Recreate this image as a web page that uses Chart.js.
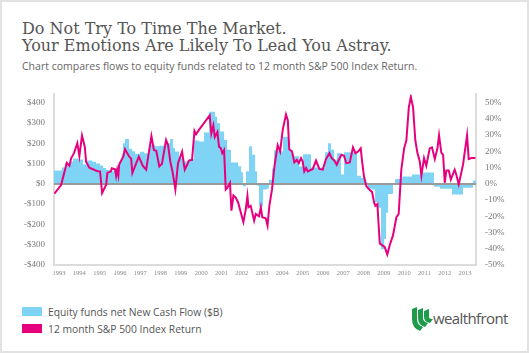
<!DOCTYPE html>
<html>
<head>
<meta charset="utf-8">
<script src="https://cdn.jsdelivr.net/npm/chart.js@4.4.1/dist/chart.umd.min.js"></script>
<style>
  html, body { margin: 0; padding: 0; background: #fff; }
  #frame { position: relative; width: 529px; height: 353px; overflow: hidden; background: #fff; }
  #edge { position: absolute; left: 0; top: 0; width: 529px; height: 353px; box-sizing: border-box; border: 2px solid #e2e2e2; pointer-events: none; }
  #title { position: absolute; left: 22px; top: 20px; font-family: "DejaVu Serif", serif; font-size: 16px; line-height: 17px; color: #555; white-space: nowrap; }
  #sub { position: absolute; left: 22px; top: 60px; font-family: "Open Sans", sans-serif; font-size: 10.5px; line-height: 13px; color: #666; white-space: nowrap; }
  #chart { position: absolute; left: 0; top: 80px; }
  .key { position: absolute; left: 22px; width: 20px; height: 9px; }
  .keytxt { position: absolute; left: 48px; font-family: "Open Sans", sans-serif; font-size: 10.3px; line-height: 14px; color: #555; white-space: nowrap; }
  #logo { position: absolute; left: 410px; top: 306px; }
  #logotxt { position: absolute; left: 433px; top: 309px; font-family: "Open Sans", sans-serif; font-size: 15px; line-height: 18px; color: #555; letter-spacing: -0.6px; }
</style>
</head>
<body>
<div id="frame">
  <div id="title">Do Not Try To Time The Market.<br>Your Emotions Are Likely To Lead You Astray.</div>
  <div id="sub">Chart compares flows to equity funds related to 12 month S&amp;P 500 Index Return.</div>
  <canvas id="chart" width="529" height="200"></canvas>
  <div class="key" style="top:307px;background:#7fd3f5"></div>
  <div class="keytxt" style="top:305px">Equity funds net New Cash Flow ($B)</div>
  <div class="key" style="top:324px;background:#e6007e"></div>
  <div class="keytxt" style="top:322px">12 month S&amp;P 500 Index Return</div>
  <svg id="logo" width="24" height="26" viewBox="0 0 24 26">
    <path d="M2 3 L7 1 L7 13 Q7 19 13 21 L10 25 Q2 22 2 13 Z" fill="#1d9a4a"/>
    <path d="M8 4 L13 2 L13 12 Q13 16 18 17 L15 21 Q8 19 8 12 Z" fill="#1d9a4a"/>
    <path d="M14 5 L19 3 L19 11 Q19 13 23 13 L20 17 Q14 16 14 11 Z" fill="#1d9a4a"/>
  </svg>
  <div id="logotxt">wealthfront</div>
  <div id="edge"></div>
</div>
<script>
// equity fund net new cash flow, $B (step starts, decimal years)
const flowYears = [1992.75, 1993.15, 1993.30, 1993.54, 1993.69, 1993.94, 1994.18, 1994.38, 1994.63, 1994.82,
  1995.02, 1995.17, 1995.32, 1995.51, 1995.71, 1995.86, 1996.00, 1996.10, 1996.15, 1996.25,
  1996.45, 1996.60, 1996.74, 1996.99, 1997.19, 1997.48, 1997.73, 1997.93, 1998.22, 1998.47,
  1998.62, 1998.71, 1998.91, 1999.16, 1999.40, 1999.65, 1999.90, 2000.14, 2000.39, 2000.68,
  2000.78, 2000.93, 2001.13, 2001.28, 2001.47, 2001.82, 2001.97, 2002.06, 2002.21, 2002.36,
  2002.51, 2002.66, 2002.75, 2002.85, 2003.05, 2003.25, 2003.34, 2003.49, 2003.59, 2003.79,
  2004.03, 2004.28, 2004.38, 2004.48, 2004.82, 2005.02, 2005.41, 2006.10, 2006.25, 2006.40,
  2006.55, 2006.69, 2006.89, 2007.04, 2007.68, 2007.88, 2008.07, 2008.22, 2008.42, 2008.57,
  2008.71, 2008.86, 2009.02, 2009.11, 2009.21, 2009.45, 2009.55, 2009.90, 2010.39, 2010.78,
  2011.47, 2011.77, 2012.36, 2012.90, 2013.39];
const flowValues = [65, 80, 100, 110, 125, 120, 95, 115, 108, 100,
  90, 78, 68, 62, 70, 92, 110, 150, 200, 220,
  172, 160, 148, 158, 150, 192, 185, 187, 200, 220,
  176, 159, 127, 110, 122, 213, 208, 252, 354, 330,
  298, 257, 216, 167, 105, 86, 57, -12, 62, 185,
  143, 62, -10, -112, -28, -23, 20, 75, 165, 160,
  232, 200, 165, 135, 85, 145, 80, 155, 200, 167,
  120, 150, 45, 155, 40, 28, 5, -25, -28, -90,
  -118, -322, -272, -143, -50, -5, 24, 36, 45, 55,
  -15, -25, -53, -20, 16];

// 12 month S&P 500 return, %
const returnYears = [1992.77, 1993.10, 1993.38, 1993.51, 1993.59, 1993.74, 1993.90, 1994.00, 1994.13, 1994.27,
  1994.33, 1994.49, 1994.86, 1995.02, 1995.12, 1995.32, 1995.38, 1995.55, 1995.60, 1995.76,
  1995.81, 1995.86, 1995.92, 1995.96, 1996.17, 1996.25, 1996.46, 1996.55, 1996.61, 1996.93,
  1997.12, 1997.29, 1997.55, 1997.67, 1997.79, 1997.94, 1998.07, 1998.27, 1998.37, 1998.48,
  1998.60, 1998.73, 1998.86, 1999.06, 1999.19, 1999.31, 1999.39, 1999.55, 1999.67, 1999.75,
  1999.90, 2000.42, 2000.50, 2000.60, 2000.67, 2000.80, 2000.88, 2000.97, 2001.04, 2001.13,
  2001.21, 2001.29, 2001.42, 2001.49, 2001.59, 2001.70, 2001.82, 2002.08, 2002.20, 2002.28,
  2002.33, 2002.44, 2002.61, 2002.69, 2002.85, 2002.94, 2003.01, 2003.18, 2003.27, 2003.36,
  2003.49, 2003.61, 2003.77, 2003.89, 2004.02, 2004.18, 2004.27, 2004.34, 2004.48, 2004.59,
  2004.71, 2004.81, 2004.92, 2005.00, 2005.08, 2005.17, 2005.25, 2005.50, 2005.66, 2005.82,
  2005.99, 2006.15, 2006.32, 2006.43, 2006.56, 2006.68, 2006.78, 2006.91, 2007.04, 2007.15,
  2007.32, 2007.48, 2007.60, 2007.73, 2007.86, 2007.93, 2008.02, 2008.14, 2008.31, 2008.42,
  2008.52, 2008.58, 2008.68, 2008.80, 2008.91, 2009.04, 2009.17, 2009.29, 2009.45, 2009.62,
  2009.73, 2009.86, 2010.00, 2010.11, 2010.23, 2010.33, 2010.44, 2010.55, 2010.65, 2010.77,
  2010.85, 2010.98, 2011.09, 2011.26, 2011.37, 2011.51, 2011.64, 2011.72, 2011.83, 2011.92,
  2012.00, 2012.08, 2012.20, 2012.30, 2012.49, 2012.57, 2012.69, 2012.90, 2013.01, 2013.10,
  2013.18, 2013.31, 2013.51];
const returnValues = [-6.1, -0.8, 12.9, 11.1, 15.5, 19, 25, 17, 29.7, 22.6,
  13.5, 9.9, 7.9, 7.5, -5.7, -0.6, 6.8, 7.5, 9.5, 8.9,
  4.8, 8.5, 5, 11.9, 17, 21.3, 16.7, 15.5, 6.7, 16.7,
  11.1, 8.7, 29.3, 20.8, 20.2, 10.7, 12.3, 27, 23.8, 13.7,
  6.7, -3.5, 12.7, 19.8, 8.7, 11.7, 14.3, 14.7, 32.5, 30.5,
  33.3, 42, 30.9, 35.9, 28.8, 31.9, 22.8, 21.8, 18.8, 20.8,
  -3.5, -2.4, 0.6, -16.6, -7.1, -8.5, -11.5, -23.6, -15.6, -7.5,
  -14.5, -13.6, -22.7, -18.6, -20, -14.5, -20.6, -21.2, -25.7, -13.6,
  -3.5, 10.7, 23.8, 19.8, 33.3, 42.6, 39, 21.2, 19.8, 13.1,
  14.7, 12.7, 15.8, 13.7, 7.6, 9.7, 7.6, 9.1, 14.3, 9.1,
  8.7, 15.2, 18.8, 15.8, 14.3, 11.7, 14.7, 17.8, 17.2, 12.7,
  13.1, 22.4, 18.8, 19.8, 21.8, 13.7, 4.6, -1.5, -3.9, -5.1,
  -11.5, -13.6, -12.5, -36.8, -37.8, -38.8, -43.5, -37.8, -31.8, -20.6,
  -18.6, 8.7, 21.8, 26.8, 47, 53.5, 47, 26.8, 19.2, 13.7,
  5, 15.8, 11.1, 21.8, 22.4, 15.2, 21.8, 29.9, 19.2, 17.8,
  0.6, 8.2, 8.2, 2.6, 8.7, 5.6, -0.4, 11.7, 21.8, 29.9,
  15.2, 15.8, 15.8];

const yearLabels = [1993, 1994, 1995, 1996, 1997, 1998, 1999, 2000, 2001, 2002, 2003,
  2004, 2005, 2006, 2007, 2008, 2009, 2010, 2011, 2012, 2013];
const dollarTicks = [-400, -300, -200, -100, 0, 100, 200, 300, 400];
const pctTicks = [-50, -40, -30, -20, -10, 0, 10, 20, 30, 40, 50];

const xStart = 1992.75, xEnd = 2013.54;

const flowPoints = flowYears.map((x, i) => ({ x: x, y: flowValues[i] }));
flowPoints.push({ x: xEnd, y: flowValues[flowValues.length - 1] });
const returnPoints = returnYears.map((x, i) => ({ x: x, y: returnValues[i] }));

// grey zero line drawn over the blue area but under the pink line
const zeroLine = {
  id: 'zeroLine',
  afterDatasetDraw(chart, args) {
    if (args.index !== 1) return;
    const ctx = chart.ctx, a = chart.chartArea;
    const y = Math.round(chart.scales.y.getPixelForValue(0));
    ctx.save();
    ctx.strokeStyle = '#9a9a9a';
    ctx.lineWidth = 2;
    ctx.beginPath();
    ctx.moveTo(a.left, y);
    ctx.lineTo(a.right, y);
    ctx.stroke();
    ctx.restore();
  }
};

const tickFont = { family: 'Liberation Serif', size: 9 };

new Chart(document.getElementById('chart').getContext('2d'), {
  type: 'line',
  data: {
    datasets: [{
      label: '12 month S&P 500 Index Return',
      data: returnPoints,
      yAxisID: 'y2',
      borderColor: '#e6007e',
      borderWidth: 2,
      pointRadius: 0,
      tension: 0,
      fill: false,
      order: 0
    }, {
      label: 'Equity funds net New Cash Flow ($B)',
      data: flowPoints,
      yAxisID: 'y',
      stepped: true,
      borderWidth: 0,
      borderColor: 'rgba(0,0,0,0)',
      backgroundColor: '#7fd3f5',
      pointRadius: 0,
      fill: 'origin',
      order: 1
    }]
  },
  options: {
    responsive: false,
    devicePixelRatio: 1,
    animation: false,
    layout: { padding: { top: 12, left: 0, right: 0, bottom: 0 } },
    plugins: { legend: { display: false }, tooltip: { enabled: false } },
    scales: {
      x: {
        type: 'linear',
        min: xStart,
        max: xEnd,
        afterBuildTicks: s => { s.ticks = yearLabels.map(v => ({ value: v })); },
        afterFit: s => { s.height = 15; },
        grid: { display: false, drawTicks: false },
        border: { color: '#dcdcdc', width: 2 },
        ticks: {
          autoSkip: false, maxRotation: 0, padding: 4,
          color: '#888', font: { family: 'Liberation Serif', size: 6.5 },
          callback: v => String(v)
        }
      },
      y: {
        position: 'left',
        min: -400,
        max: 440,
        afterBuildTicks: s => { s.ticks = dollarTicks.map(v => ({ value: v })); },
        afterFit: s => { s.width = 54; },
        grid: { display: false, drawTicks: false },
        border: { color: '#dcdcdc', width: 2 },
        ticks: {
          padding: 9, color: '#777', font: tickFont,
          callback: v => (v < 0 ? '-$' : '$') + Math.abs(v)
        }
      },
      y2: {
        position: 'right',
        min: -50,
        max: 55,
        afterBuildTicks: s => { s.ticks = pctTicks.map(v => ({ value: v })); },
        afterFit: s => { s.width = 53; },
        grid: { display: false, drawTicks: false },
        border: { color: '#dcdcdc', width: 2 },
        ticks: {
          padding: 9, color: '#777', font: tickFont,
          callback: v => v + '%'
        }
      }
    }
  },
  plugins: [zeroLine]
});
</script>
</body>
</html>
